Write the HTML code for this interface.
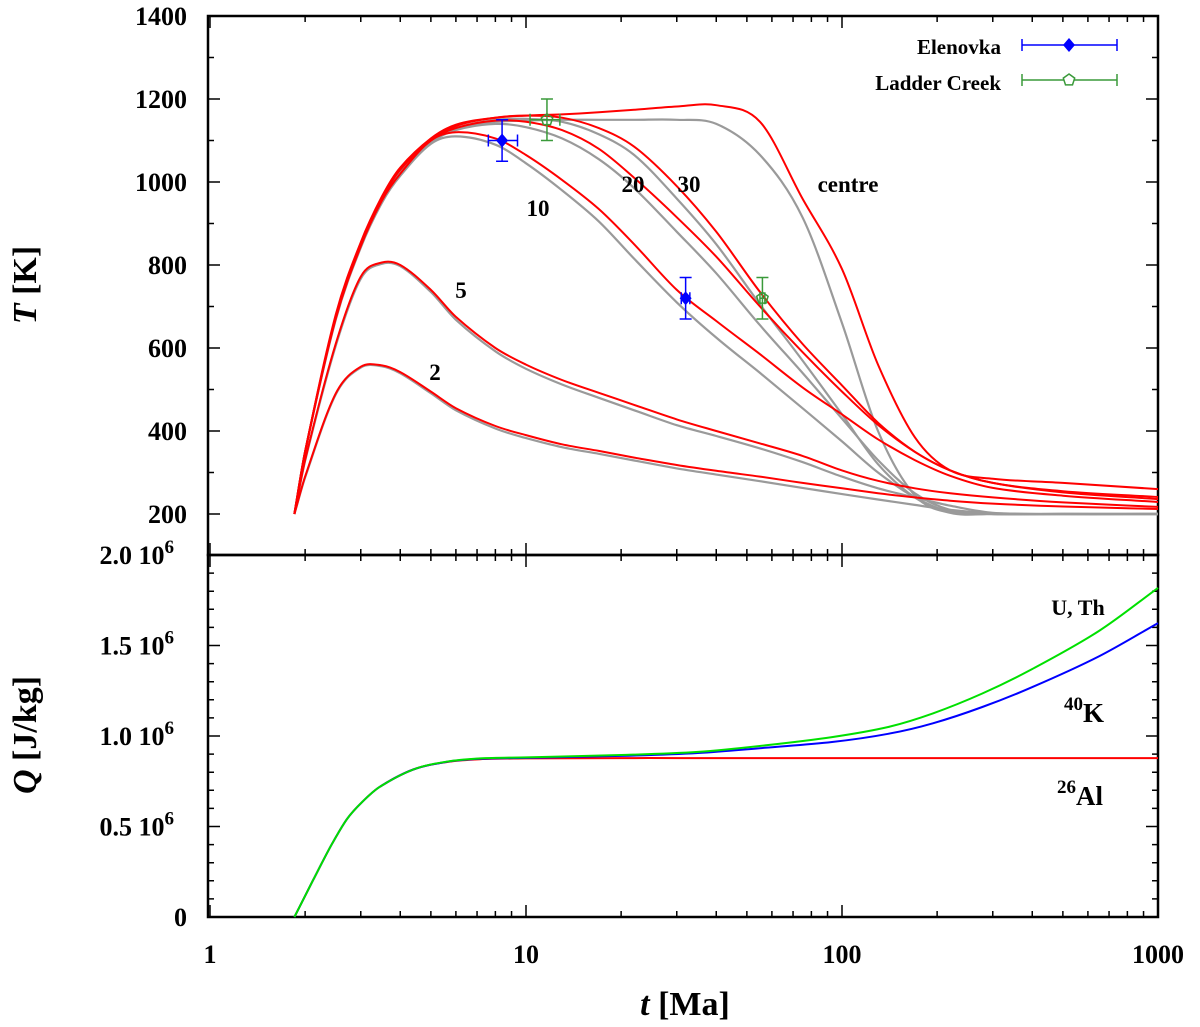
<!DOCTYPE html>
<html><head><meta charset="utf-8"><style>
html,body{margin:0;padding:0;background:#fff}
svg{display:block;font-family:"Liberation Serif",serif;font-weight:bold}
</style></head><body>
<svg id="chart" width="1200" height="1027" viewBox="0 0 1200 1027" xmlns="http://www.w3.org/2000/svg">
<g id="grid"></g>
<g id="series"></g>
<g id="labels"></g>
</svg>
<script>
const tTimes = [1.85, 2, 2.5, 3, 3.5, 4, 5, 6, 8, 10, 13, 17, 22, 30, 40, 55, 75, 100, 130, 170, 220, 300, 500, 1000];
const redCentre = [200,350,680,855,965,1035,1105,1138,1155,1160,1163,1168,1174,1182,1185,1145,960,790,560,385,305,285,275,260];
const grayCentre = [200,350,675,850,960,1030,1098,1130,1145,1148,1150,1150,1150,1150,1140,1065,915,660,400,245,203,200,200,200];
const red30 = [200,350,675,850,960,1030,1100,1135,1155,1160,1155,1130,1085,990,880,735,610,510,420,350,305,275,255,241];
const gray30 = [200,350,673,848,958,1027,1097,1130,1150,1152,1145,1115,1065,960,850,705,570,440,320,240,205,200,200,200];
const red20 = [200,350,675,850,960,1030,1100,1130,1148,1145,1125,1080,1010,915,820,700,590,495,415,350,305,275,252,236];
const gray20 = [200,350,672,847,956,1024,1095,1125,1140,1132,1105,1055,985,880,780,655,540,430,330,250,210,200,200,200];
const red10 = [200,350,670,845,955,1020,1100,1120,1105,1065,1005,935,850,740,665,585,505,440,380,330,292,263,244,229];
const gray10 = [200,350,668,842,950,1015,1092,1110,1090,1045,980,905,815,710,625,540,455,375,300,240,205,200,200,200];
const red5 = [200,330,610,772,806,800,740,675,600,560,523,492,463,428,400,370,340,305,280,262,250,240,228,217];
const gray5 = [200,328,605,767,803,797,735,668,592,550,512,480,450,414,388,358,325,290,262,240,220,203,200,200];
const red2 = [200,290,490,555,558,542,495,455,412,390,368,352,336,318,304,290,275,262,250,240,232,225,218,212];
const gray2 = [200,288,488,553,556,539,491,450,406,383,361,345,329,310,295,279,263,248,235,222,210,202,200,200];

const qTimes = [1.85,2.12,2.4,2.71,3.05,3.45,4.4,5.6,7.15,10,20,35,57,93,140,194,278,400,650,1000];
const qAl = [0,0.204,0.385,0.54,0.64,0.72,0.815,0.856,0.872,0.876,0.878,0.878,0.878,0.878,0.878,0.878,0.878,0.878,0.878,0.878];
const qK = [0,0.204,0.385,0.54,0.64,0.72,0.815,0.857,0.874,0.879,0.89,0.906,0.935,0.967,1.012,1.07,1.16,1.27,1.44,1.624];
const qU = [0,0.204,0.385,0.54,0.64,0.72,0.815,0.858,0.876,0.882,0.895,0.912,0.948,0.994,1.05,1.125,1.235,1.37,1.58,1.818];

const elenT = [8.4, 32];
const elenTemp = [1100, 720];
const elenTlo = [7.6, 31];
const elenThi = [9.4, 33];
const ladT = [11.65, 56];
const ladTemp = [1150, 720];
const ladTlo = [10.3, 55];
const ladThi = [12.8, 57];
const tempErr = 50;

const xTicks = [1, 10, 100, 1000];
const tTicks = [200, 400, 600, 800, 1000, 1200, 1400];
const qTicks = [0, 0.5, 1.0, 1.5, 2.0];

const NS = "http://www.w3.org/2000/svg";
const L = 208, R = 1158, TT = 16, MID = 555, B = 917;
const xS = t => 210 + 316 * Math.log10(t);
const yT = v => 514 - (v - 200) * 0.415;
const yQ = v => 917 - v * 181;

function mk(tag, attrs, parent) {
  const e = document.createElementNS(NS, tag);
  for (const k in attrs) e.setAttribute(k, attrs[k]);
  parent.appendChild(e);
  return e;
}
function smooth(pts) {
  const n = pts.length, m = [];
  for (let i = 0; i < n; i++) {
    const a = pts[Math.max(0, i - 1)], b = pts[Math.min(n - 1, i + 1)];
    m.push((b[1] - a[1]) / (b[0] - a[0]));
  }
  let d = "M" + pts[0][0].toFixed(1) + "," + pts[0][1].toFixed(1);
  for (let i = 0; i < n - 1; i++) {
    const p1 = pts[i], p2 = pts[i + 1], dx = (p2[0] - p1[0]) / 3;
    d += "C" + (p1[0] + dx).toFixed(1) + "," + (p1[1] + m[i] * dx).toFixed(1) + " " + (p2[0] - dx).toFixed(1) + "," + (p2[1] - m[i + 1] * dx).toFixed(1) + " " + p2[0].toFixed(1) + "," + p2[1].toFixed(1);
  }
  return d;
}
const grid = document.getElementById("grid");
const ser = document.getElementById("series");
const lab = document.getElementById("labels");

const f1 = mk("rect", {x: L, y: TT, width: R - L, height: MID - TT, fill: "none", stroke: "#000", "stroke-width": 2.5}, grid);


const f2 = mk("rect", {x: L, y: MID, width: R - L, height: B - MID, fill: "none", stroke: "#000", "stroke-width": 2.5}, grid);



let tk = "";
for (let dec = 1; dec <= 100; dec *= 10) {
  for (let m = 1; m <= 10; m++) {
    const x = xS(dec * m);
    const len = (m === 1 || m === 10) ? 12 : 6;
    for (const yy of [TT, MID]) tk += `M${x},${yy}v${len}`;
    for (const yy of [MID, B]) tk += `M${x},${yy}v${-len}`;
  }
}
for (let v = 200; v <= 1400; v += 100) {
  const y = yT(v), len = v % 200 === 0 ? 12 : 6;
  tk += `M${L},${y}h${len}M${R},${y}h${-len}`;
}
for (let v = 0; v <= 2.0001; v += 0.1) {
  const y = yQ(v), len = Math.abs(v * 2 - Math.round(v * 2)) < 1e-6 ? 12 : 6;
  tk += `M${L},${y}h${len}M${R},${y}h${-len}`;
}
const ticks = mk("path", {d: tk, stroke: "#000", "stroke-width": 1.5, fill: "none"}, grid);



xTicks.forEach(t => {
  const e = mk("text", {x: xS(t), y: 963, "text-anchor": "middle", "font-size": 26}, lab);
  e.textContent = t;
  
  
});
tTicks.forEach(v => {
  const e = mk("text", {x: 187, y: yT(v) + 9, "text-anchor": "end", "font-size": 26}, lab);
  e.textContent = v;
  
  
});
qTicks.forEach(v => {
  const e = mk("text", {x: 174, y: yQ(v) + 9, "text-anchor": "end", "font-size": 26}, lab);
  if (v === 0) { e.textContent = "0"; e.setAttribute("x", 187); }
  else {
    e.textContent = v.toFixed(1) + " 10";
    const s = mk("tspan", {dy: -11, "font-size": 19}, e);
    s.textContent = "6";
  }
  
  
});

const yt = mk("text", {transform: "translate(36,285) rotate(-90)", "text-anchor": "middle", "font-size": 34}, lab);
yt.innerHTML = '<tspan font-style="italic">T</tspan> [K]';


const qt = mk("text", {transform: "translate(36,735) rotate(-90)", "text-anchor": "middle", "font-size": 34}, lab);
qt.innerHTML = '<tspan font-style="italic">Q</tspan> [J/kg]';


const xt = mk("text", {x: 685, y: 1015, "text-anchor": "middle", "font-size": 34}, lab);
xt.innerHTML = '<tspan font-style="italic">t</tspan> [Ma]';



const grays = [["gray-centre", grayCentre], ["gray-30", gray30], ["gray-20", gray20], ["gray-10", gray10], ["gray-5", gray5], ["gray-2", gray2]];
const reds = [["red-centre", redCentre], ["red-30", red30], ["red-20", red20], ["red-10", red10], ["red-5", red5], ["red-2", red2]];
grays.forEach(([n, arr]) => {
  const p = mk("path", {d: smooth(tTimes.map((t, i) => [xS(t), yT(arr[i])])), fill: "none", stroke: "#9a9a9a", "stroke-width": 2.2}, ser);
  
  
});
reds.forEach(([n, arr]) => {
  const p = mk("path", {d: smooth(tTimes.map((t, i) => [xS(t), yT(arr[i])])), fill: "none", stroke: "#ff0000", "stroke-width": 2}, ser);
  
  
});

[["q-al26", qAl, "#ff0000"], ["q-k40", qK, "#0000ff"], ["q-uth", qU, "#00e000"]].forEach(([n, arr, c]) => {
  const p = mk("path", {d: smooth(qTimes.map((t, i) => [xS(t), yQ(arr[i])])), fill: "none", stroke: c, "stroke-width": 2}, ser);
  
  
});

function errbar(x0, x1, x, y, ylo, yhi, color) {
  let d = `M${x0},${y}H${x1}M${x0},${y - 6}v12M${x1},${y - 6}v12M${x},${ylo}V${yhi}M${x - 6},${ylo}h12M${x - 6},${yhi}h12`;
  return mk("path", {d: d, stroke: color, "stroke-width": 1.5, fill: "none"}, ser);
}
function pentagon(cx, cy, r) {
  let pts = [];
  for (let k = 0; k < 5; k++) { const a = -Math.PI / 2 + k * 2 * Math.PI / 5; pts.push((cx + r * Math.cos(a)).toFixed(1) + "," + (cy + r * Math.sin(a)).toFixed(1)); }
  return pts.join(" ");
}
elenT.forEach((t, i) => {
  const x = xS(t), y = yT(elenTemp[i]);
  const e = errbar(xS(elenTlo[i]), xS(elenThi[i]), x, y, yT(elenTemp[i] - tempErr), yT(elenTemp[i] + tempErr), "#0000ff");
  
  
  const m = mk("polygon", {points: `${x},${y - 7} ${x + 6},${y} ${x},${y + 7} ${x - 6},${y}`, fill: "#0000ff"}, ser);
  
  
});
ladT.forEach((t, i) => {
  const x = xS(t), y = yT(ladTemp[i]);
  const e = errbar(xS(ladTlo[i]), xS(ladThi[i]), x, y, yT(ladTemp[i] - tempErr), yT(ladTemp[i] + tempErr), "#3a9a3a");
  
  
  const m = mk("polygon", {points: pentagon(x, y, 6), fill: "none", stroke: "#3a9a3a", "stroke-width": 1.5}, ser);
  
  
});

[["2", 435, 380], ["5", 461, 298], ["10", 538, 216], ["20", 633, 192], ["30", 689, 192], ["centre", 848, 192]].forEach(([s, x, y]) => {
  const e = mk("text", {x: x, y: y, "text-anchor": "middle", "font-size": 23}, lab);
  e.textContent = s;
  
  
});
const l1 = mk("text", {x: 1078, y: 615, "text-anchor": "middle", "font-size": 22}, lab);
l1.textContent = "U, Th";


const l2 = mk("text", {x: 1084, y: 722, "text-anchor": "middle", "font-size": 27}, lab);
l2.innerHTML = '<tspan font-size="19" dy="-12">40</tspan><tspan dy="12">K</tspan>';


const l3 = mk("text", {x: 1080, y: 805, "text-anchor": "middle", "font-size": 27}, lab);
l3.innerHTML = '<tspan font-size="19" dy="-12">26</tspan><tspan dy="12">Al</tspan>';



const lg = mk("g", {}, lab);


const le1 = mk("text", {x: 1001, y: 54, "text-anchor": "end", "font-size": 21}, lg);
le1.textContent = "Elenovka";


const ll1 = mk("path", {d: "M1022,45H1117M1022,39v12M1117,39v12", stroke: "#0000ff", "stroke-width": 1.5, fill: "none"}, lg);


const lm1 = mk("polygon", {points: "1069,38 1075,45 1069,52 1063,45", fill: "#0000ff"}, lg);


const le2 = mk("text", {x: 1001, y: 90, "text-anchor": "end", "font-size": 21}, lg);
le2.textContent = "Ladder Creek";


const ll2 = mk("path", {d: "M1022,80H1117M1022,74v12M1117,74v12", stroke: "#3a9a3a", "stroke-width": 1.5, fill: "none"}, lg);


const lm2 = mk("polygon", {points: pentagon(1069, 80, 6), fill: "#fff", stroke: "#3a9a3a", "stroke-width": 1.5}, lg);


</script>
</body></html>
